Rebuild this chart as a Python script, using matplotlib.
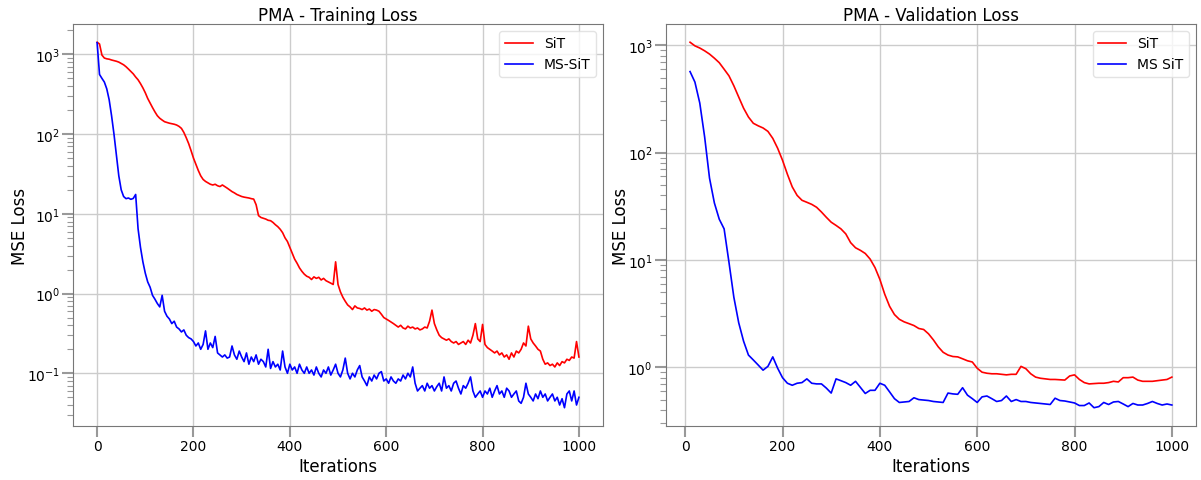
import numpy as np
import matplotlib
matplotlib.use("Agg")
import matplotlib.pyplot as plt

# ---------------- data ----------------
train_iters = np.arange(0, 1001, 5)

train_sit = [
    1420, 1350, 980, 900, 880, 870, 850, 835, 820, 800,
    770, 740, 700, 655, 610, 570, 520, 480, 430, 380,
    330, 280, 245, 215, 190, 170, 158, 150, 143, 140,
    137, 135, 133, 130, 125, 118, 105, 90, 76, 62,
    50, 42, 35, 30, 27, 25.5, 24.5, 23.5, 23, 23.5,
    22.5, 22, 23, 22, 21, 20, 19, 18.3, 17.5, 17,
    16.5, 16.2, 16, 15.8, 15.5, 15.3, 13, 9.5, 9, 8.8,
    8.6, 8.3, 8.2, 7.8, 7.3, 6.9, 6.4, 5.8, 5.0, 4.5,
    3.8, 3.2, 2.7, 2.4, 2.1, 1.9, 1.75, 1.65, 1.6, 1.5,
    1.62, 1.55, 1.6, 1.48, 1.55, 1.45, 1.4, 1.35, 1.3, 2.5,
    1.3, 1.05, 0.9, 0.8, 0.72, 0.68, 0.63, 0.7, 0.66, 0.65,
    0.63, 0.66, 0.62, 0.64, 0.6, 0.63, 0.62, 0.6, 0.55, 0.5,
    0.48, 0.46, 0.44, 0.42, 0.4, 0.38, 0.4, 0.37, 0.36, 0.39,
    0.37, 0.38, 0.36, 0.37, 0.35, 0.36, 0.38, 0.37, 0.45, 0.62,
    0.42, 0.35, 0.3, 0.28, 0.27, 0.26, 0.27, 0.25, 0.24, 0.25,
    0.23, 0.24, 0.25, 0.23, 0.26, 0.24, 0.3, 0.42, 0.27, 0.25,
    0.41, 0.23, 0.21, 0.2, 0.19, 0.18, 0.19, 0.17, 0.18, 0.16,
    0.17, 0.15, 0.18, 0.16, 0.19, 0.18, 0.2, 0.24, 0.22, 0.39,
    0.27, 0.24, 0.22, 0.2, 0.19, 0.15, 0.13, 0.135, 0.125, 0.13,
    0.12, 0.135, 0.125, 0.14, 0.135, 0.15, 0.145, 0.16, 0.155, 0.25,
    0.16,
]

train_mssit = [
    1400, 560, 500, 450, 370, 270, 170, 100, 55, 30,
    20, 16.5, 15.5, 15.8, 15.2, 15.6, 17.5, 6.5, 3.8, 2.5,
    1.8, 1.4, 1.2, 0.95, 0.85, 0.75, 0.68, 0.95, 0.6, 0.52,
    0.48, 0.42, 0.45, 0.38, 0.36, 0.33, 0.35, 0.3, 0.28, 0.27,
    0.25, 0.22, 0.24, 0.2, 0.23, 0.34, 0.2, 0.24, 0.21, 0.29,
    0.18, 0.17, 0.16, 0.17, 0.155, 0.16, 0.22, 0.17, 0.15, 0.19,
    0.16, 0.14, 0.18, 0.13, 0.16, 0.14, 0.17, 0.13, 0.15, 0.14,
    0.12, 0.2, 0.115, 0.14, 0.12, 0.13, 0.11, 0.19, 0.12, 0.1,
    0.13, 0.11, 0.12, 0.1, 0.13, 0.11, 0.1, 0.12, 0.1, 0.11,
    0.095, 0.12, 0.1, 0.09, 0.11, 0.1, 0.12, 0.095, 0.11, 0.13,
    0.1, 0.09, 0.11, 0.155, 0.1, 0.085, 0.1, 0.09, 0.11, 0.125,
    0.09, 0.08, 0.07, 0.09, 0.08, 0.095, 0.085, 0.1, 0.105, 0.08,
    0.085, 0.075, 0.09, 0.08, 0.075, 0.085, 0.08, 0.095, 0.085, 0.1,
    0.09, 0.12, 0.075, 0.06, 0.065, 0.07, 0.06, 0.075, 0.065, 0.07,
    0.06, 0.068, 0.075, 0.06, 0.09, 0.065, 0.07, 0.06, 0.075, 0.08,
    0.065, 0.055, 0.07, 0.065, 0.075, 0.09, 0.06, 0.05, 0.055, 0.06,
    0.05, 0.06, 0.055, 0.065, 0.05, 0.06, 0.07, 0.055, 0.06, 0.05,
    0.065, 0.06, 0.05, 0.055, 0.06, 0.045, 0.042, 0.05, 0.075, 0.055,
    0.05, 0.045, 0.055, 0.048, 0.06, 0.05, 0.055, 0.045, 0.05, 0.055,
    0.045, 0.05, 0.04, 0.048, 0.037, 0.055, 0.06, 0.045, 0.06, 0.04,
    0.05,
]

val_iters = np.arange(10, 1001, 10)

val_sit = [
    1070, 990, 945, 890, 830, 760, 690, 600, 520, 420,
    330, 260, 215, 188, 178, 170, 158, 136, 110, 85,
    63, 48, 40, 36, 34.5, 33, 31, 28, 25, 22.5,
    21, 19.5, 17.5, 14.5, 13, 12.3, 11.5, 10.2, 8.5, 6.6,
    4.8, 3.7, 3.1, 2.8, 2.65, 2.55, 2.45, 2.3, 2.25, 2.05,
    1.8, 1.55, 1.38, 1.3, 1.26, 1.25, 1.2, 1.15, 1.12, 0.98,
    0.9, 0.88, 0.87, 0.87, 0.86, 0.85, 0.86, 0.86, 1.02, 0.97,
    0.87, 0.81, 0.79, 0.78, 0.77, 0.77, 0.765, 0.76, 0.83, 0.85,
    0.77, 0.72, 0.70, 0.705, 0.71, 0.71, 0.72, 0.74, 0.73, 0.80,
    0.80, 0.81, 0.76, 0.74, 0.74, 0.74, 0.75, 0.76, 0.77, 0.81,
]

val_mssit = [
    570, 455, 290, 140, 58, 34, 24, 19.5, 9.5, 4.5,
    2.6, 1.75, 1.3, 1.17, 1.05, 0.94, 1.02, 1.25, 0.98, 0.80,
    0.71, 0.68, 0.71, 0.72, 0.78, 0.71, 0.70, 0.70, 0.64, 0.575,
    0.78, 0.75, 0.72, 0.68, 0.74, 0.65, 0.57, 0.61, 0.61, 0.71,
    0.68, 0.59, 0.51, 0.47, 0.475, 0.48, 0.52, 0.50, 0.495, 0.49,
    0.48, 0.475, 0.47, 0.575, 0.565, 0.56, 0.645, 0.55, 0.51, 0.47,
    0.53, 0.54, 0.51, 0.48, 0.49, 0.54, 0.48, 0.50, 0.48, 0.48,
    0.47, 0.465, 0.46, 0.455, 0.45, 0.515, 0.49, 0.485, 0.475, 0.465,
    0.44, 0.44, 0.465, 0.42, 0.43, 0.47, 0.45, 0.475, 0.48, 0.455,
    0.43, 0.46, 0.445, 0.445, 0.46, 0.48, 0.46, 0.445, 0.455, 0.445,
]

# ---------------- plot ----------------
plt.rcParams['font.family'] = ['DejaVu Sans']
fig = plt.figure(figsize=(12.01, 4.81), dpi=100)
ax1 = fig.add_axes([0.0608, 0.1123, 0.4413, 0.8358])
ax2 = fig.add_axes([0.5545, 0.1123, 0.4413, 0.8358])

ax1.plot(train_iters, train_sit, color='red', lw=1.2, label='SiT')
ax1.plot(train_iters, train_mssit, color='blue', lw=1.2, label='MS-SiT')
ax1.set_title('PMA - Training Loss', fontsize=12, pad=3)

ax2.plot(val_iters, val_sit, color='red', lw=1.2, label='SiT')
ax2.plot(val_iters, val_mssit, color='blue', lw=1.2, label='MS SiT')
ax2.set_title('PMA - Validation Loss', fontsize=12, pad=3)

for ax in (ax1, ax2):
    ax.set_yscale('log')
    ax.set_xlabel('Iterations', fontsize=12, labelpad=3)
    ax.set_ylabel('MSE Loss', fontsize=12, labelpad=-2)
    ax.grid(True, which='major', color='#cccccc', lw=1.0)
    ax.set_axisbelow(True)
    ax.tick_params(axis='both', which='major', length=8, width=1.5,
                   color='#999999', labelsize=10, pad=1.5)
    ax.tick_params(axis='y', which='minor', length=4, width=0.8, color='#999999')
    for sp in ax.spines.values():
        sp.set_color('#777777')
    ax.legend(loc='upper right', fontsize=10, framealpha=0.8, edgecolor='#dddddd')

fig.savefig('out.png', dpi=100)
